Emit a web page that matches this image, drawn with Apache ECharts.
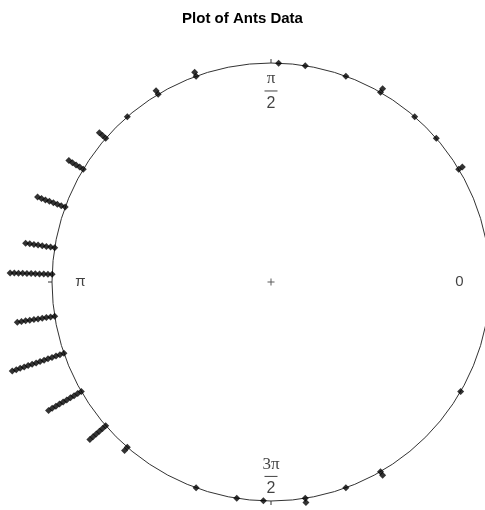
<!DOCTYPE html>
<html>
<head>
<meta charset="utf-8">
<script src="https://cdn.jsdelivr.net/npm/echarts@6/dist/echarts.min.js"></script>
<style>
  html, body { margin: 0; padding: 0; background: #fff; }
  #chart { width: 485px; height: 510px; }
</style>
</head>
<body>
<div id="chart"></div>
<script>
// ants headings, degrees counter-clockwise from 0 (east), and how many ants at each
var angles = [31, 41, 49, 60, 70, 81, 88, 110, 121, 131, 139, 149, 160, 171, 178, 189, 199, 210, 221, 229, 250, 261, 268, 279, 290, 300, 330]
var counts = [2, 1, 1, 2, 1, 1, 1, 2, 2, 1, 3, 5, 8, 8, 11, 10, 14, 10, 6, 2, 1, 1, 1, 2, 1, 2, 1]

// tick labels round the circle
var tickAngles = [0, 90, 180, 270]
var tickLabels = ['0', '{n|π}\n{bar|}\n{d|2}', 'π', '{n|3π}\n{bar|}\n{d|2}']
var tickRadius = [0.86, 0.87, 0.87, 0.89]

var STEP = 0.0192   // radial spacing of stacked points

function buildPoints(){
    var pts = []
    for(var i = 0; i < angles.length; i++){
        for(var k = 0; k < counts[i]; k++){
            pts.push([1 + k * STEP, angles[i]])
        }
    }
    return pts
}

function buildLabels(){
    var out = []
    for(var i = 0; i < tickAngles.length; i++){
        out.push({
            value: [tickRadius[i], tickAngles[i]],
            label: { formatter: tickLabels[i] }
        })
    }
    return out
}

var option = {
    animation: false,
    backgroundColor: '#fff',
    title: {
        text: 'Plot of Ants Data',
        left: 'center',
        top: 6,
        textStyle: {
            fontFamily: 'Liberation Sans',
            fontWeight: 'bold',
            fontSize: 15,
            color: '#000'
        }
    },
    polar: {
        center: [271, 282],
        radius: 219
    },
    radiusAxis: {
        min: 0,
        max: 1,
        show: false
    },
    angleAxis: {
        type: 'value',
        min: 0,
        max: 360,
        interval: 90,
        startAngle: 0,
        clockwise: false,
        axisLine: { lineStyle: { color: '#333', width: 1 } },
        axisTick: { show: true, length: 4, lineStyle: { color: '#333', width: 1 } },
        axisLabel: { show: false },
        splitLine: { show: false }
    },
    series: [
        {
            type: 'scatter',
            coordinateSystem: 'polar',
            clip: false,
            symbol: 'diamond',
            symbolSize: 7,
            itemStyle: { color: '#000' },
            data: buildPoints()
        },
        {
            // centre cross
            type: 'scatter',
            coordinateSystem: 'polar',
            clip: false,
            symbol: 'path://M3,0h1v3h3v1h-3v3h-1v-3h-3v-1h3z',
            symbolSize: 7,
            itemStyle: { color: '#333' },
            data: [[0, 0]]
        },
        {
            type: 'scatter',
            coordinateSystem: 'polar',
            clip: false,
            symbolSize: 1,
            itemStyle: { color: 'rgba(0,0,0,0)' },
            label: {
                show: true,
                position: 'inside',
                fontFamily: 'Liberation Sans',
                fontSize: 15,
                color: '#111',
                align: 'center',
                rich: {
                    n: { fontFamily: 'Liberation Serif', fontSize: 17, lineHeight: 16, color: '#111', align: 'center' },
                    d: { fontFamily: 'Liberation Sans', fontSize: 16, lineHeight: 17, color: '#111', align: 'center' },
                    bar: { width: 13, height: 1, lineHeight: 8, backgroundColor: '#111', align: 'center' }
                }
            },
            data: buildLabels()
        }
    ]
}

var myChart = echarts.init(document.getElementById('chart'))
myChart.setOption(option)
</script>
</body>
</html>
